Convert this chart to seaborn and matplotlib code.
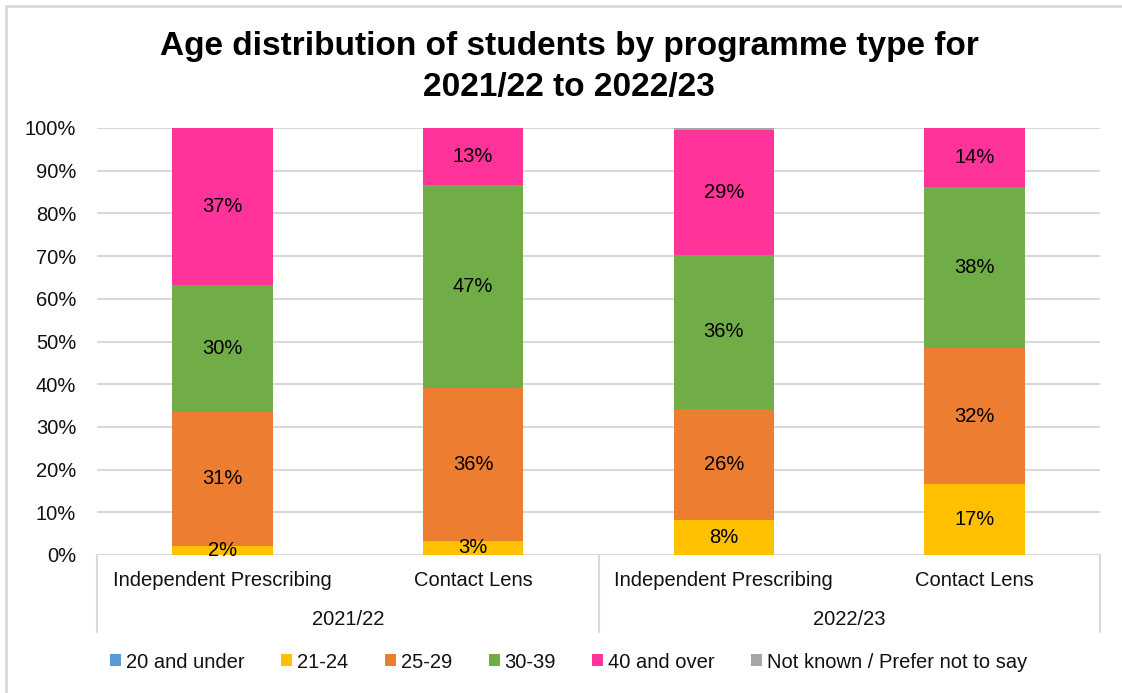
import matplotlib
matplotlib.use("Agg")
import matplotlib.pyplot as plt
from matplotlib.patches import Patch, Rectangle
from matplotlib.lines import Line2D
import seaborn as sns
import pandas as pd
import numpy as np

# Programme / year categories (left to right)
programmes = ["Independent Prescribing", "Contact Lens", "Independent Prescribing", "Contact Lens"]
years = ["2021/22", "2022/23"]
bar_keys = ["IP 2021/22", "CL 2021/22", "IP 2022/23", "CL 2022/23"]

# Age-band shares (%) per bar
age_bands = ["20 and under", "21-24", "25-29", "30-39", "40 and over", "Not known / Prefer not to say"]
under_20 = [0.0, 0.0, 0.0, 0.0]
age_21_24 = [2.2, 3.3, 8.2, 16.6]
age_25_29 = [31.2, 35.9, 26.0, 31.9]
age_30_39 = [29.8, 47.4, 36.1, 37.7]
over_40 = [36.8, 13.4, 29.2, 13.8]
not_known = [0.0, 0.0, 0.5, 0.0]

band_colors = ["#5B9BD5", "#FFC000", "#ED7D31", "#70AD47", "#FF3399", "#A5A5A5"]
labelled = [False, True, True, True, True, False]

series = [under_20, age_21_24, age_25_29, age_30_39, over_40, not_known]

sns.set_theme(style="white")
plt.rcParams["font.family"] = ["Liberation Sans", "DejaVu Sans"]
plt.rcParams["text.color"] = "black"

W, H = 1122, 693
fig = plt.figure(figsize=(W / 100, H / 100), dpi=100)
ax = fig.add_axes([97 / W, 1 - 555 / H, (1100 - 97) / W, (555 - 128) / H])

bottom = np.zeros(len(bar_keys))
for band, vals, col, lab in zip(age_bands, series, band_colors, labelled):
    df = pd.DataFrame({"bar": bar_keys, "pct": vals})
    sns.barplot(data=df, x="bar", y="pct", order=bar_keys, color=col,
                width=0.4, bottom=bottom, ax=ax, saturation=1, linewidth=0)
    if lab:
        for i, v in enumerate(vals):
            if v > 0:
                ax.text(i, bottom[i] + v / 2, f"{round(v)}%", ha="center", va="center",
                        fontsize=14.5, color="black")
    bottom = bottom + np.array(vals)

ax.set_ylim(0, 100)
ax.set_xlim(-0.5, len(bar_keys) - 0.5)
ax.set_yticks(np.arange(0, 101, 10))
ax.set_yticklabels([f"{t}%" for t in range(0, 101, 10)], fontsize=14.5, color="#111111")
ax.tick_params(axis="y", length=0, pad=15)
ax.set_xticks([])
ax.set_xlabel("")
ax.set_ylabel("")
ax.yaxis.grid(True, color="#d9d9d9", linewidth=1.5)
ax.set_axisbelow(True)
for s in ax.spines.values():
    s.set_visible(False)

# Two-level category axis below the plot
for i, p in enumerate(programmes):
    ax.text(i, -0.06, p, transform=ax.get_xaxis_transform(), ha="center", va="center",
            fontsize=14.5, color="#111111")
for j, y in enumerate(years):
    ax.text(2 * j + 0.5, -0.15, y, transform=ax.get_xaxis_transform(), ha="center",
            va="center", fontsize=14.5, color="#111111")
for xpos in [-0.5, 1.5, 3.5]:
    ax.add_line(Line2D([xpos, xpos], [0, -0.18], transform=ax.get_xaxis_transform(),
                       color="#d9d9d9", linewidth=1.5, clip_on=False))

# Title
fig.text(569 / W, 1 - 67 / H, "Age distribution of students by programme type for\n2021/22 to 2022/23",
         ha="center", va="center", fontsize=24, fontweight="bold", linespacing=1.38,
         color="black")

# Legend
handles = [Patch(facecolor=c, edgecolor="none", label=b) for b, c in zip(age_bands, band_colors)]
fig.legend(handles=handles, loc="center", bbox_to_anchor=(569 / W, 1 - 662 / H), ncol=6,
           frameon=False, fontsize=14.5, handlelength=0.55, handleheight=0.55,
           handletextpad=0.25, columnspacing=1.8, labelcolor="#111111")

# Outer chart border
fig.add_artist(Rectangle((6 / W, -0.05), 1.1, 1 - 6 / H + 0.05, transform=fig.transFigure,
                         fill=False, edgecolor="#d9d9d9", linewidth=2))

fig.savefig("out.png", dpi=100, facecolor="white")
